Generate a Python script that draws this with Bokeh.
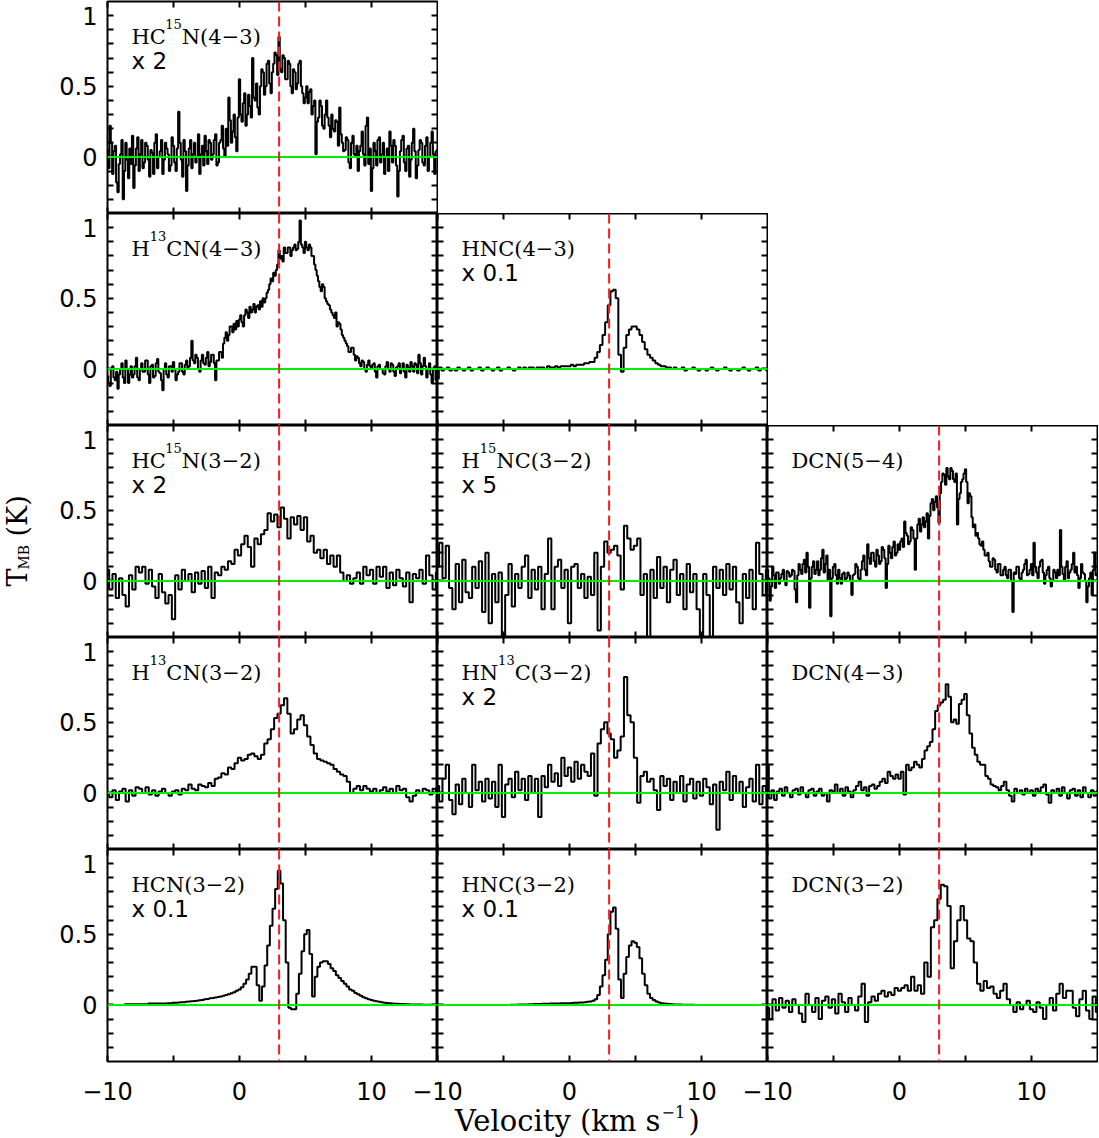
import numpy as np
from bokeh.plotting import figure
from bokeh.models import Range1d, LinearAxis, FixedTicker, Span, Label
from bokeh.layouts import column, row
from bokeh.embed import file_html
from bokeh.resources import INLINE

# ---------------- data ----------------
V_START = -10.0          # velocity of first channel (km/s)
V_SYS = 3.0              # dashed red line
X_TICKS = [-10, 0, 10]
X_LABELS = ["\u221210", "0", "10"]
X_MINOR = [-5, 5]
Y_TICKS = [0, 0.5, 1]
Y_LABELS = ["0", "0.5", "1"]
Y_MINOR = [-0.3, -0.2, -0.1, 0.1, 0.2, 0.3, 0.4, 0.6, 0.7, 0.8, 0.9]

# channel width 0.1 km/s
hc15n_43 = [
    0.05, -0.08, 0.22, 0.10, -0.12, 0.04, 0.08, -0.18, -0.25, -0.05,
    0.02, 0.12, -0.30, -0.10, 0.10, -0.02, -0.15, 0.06, -0.05, 0.15,
    -0.22, -0.06, 0.06, 0.14, -0.10, 0.02, 0.12, -0.08, -0.04, 0.10,
    0.08, -0.02, -0.14, 0.05, 0.03, -0.12, 0.10, 0.16, -0.08, 0.00,
    0.04, 0.12, -0.12, -0.02, 0.10, 0.06, 0.02, -0.10, -0.06, 0.14,
    0.08, -0.04, -0.10, 0.06, 0.32, 0.10, -0.02, -0.14, 0.12, 0.04,
    -0.24, -0.06, 0.06, 0.12, -0.08, 0.02, 0.10, -0.04, 0.00, 0.16,
    -0.12, 0.02, 0.08, -0.06, 0.15, 0.04, -0.05, 0.12, 0.10, -0.02,
    0.02, 0.12, 0.16, -0.06, -0.04, 0.10, 0.12, 0.22, 0.06, 0.00,
    0.20, 0.08, 0.42, 0.26, 0.10, 0.18, 0.30, 0.14, 0.04, 0.28,
    0.55, 0.30, 0.25, 0.38, 0.45, 0.22, 0.30, 0.44, 0.36, 0.28,
    0.70, 0.42, 0.40, 0.52, 0.35, 0.30, 0.50, 0.62, 0.60, 0.44,
    0.50, 0.66, 0.68, 0.52, 0.45, 0.60, 0.66, 0.74, 0.72, 0.58,
    0.85, 0.62, 0.60, 0.72, 0.70, 0.55, 0.55, 0.68, 0.66, 0.50,
    0.45, 0.62, 0.60, 0.48, 0.52, 0.66, 0.68, 0.50, 0.45, 0.38,
    0.42, 0.50, 0.38, 0.46, 0.48, 0.30, 0.36, 0.40, 0.02, 0.25,
    0.28, 0.40, 0.36, 0.22, 0.20, 0.30, 0.40, 0.28, 0.22, 0.14,
    0.30, 0.20, 0.18, 0.26, 0.25, 0.08, 0.35, 0.16, 0.10, 0.04,
    0.05, 0.14, 0.12, -0.04, -0.08, 0.10, 0.15, 0.02, 0.00, 0.08,
    -0.10, 0.04, 0.08, 0.18, 0.02, -0.06, 0.22, 0.28, -0.05, 0.06,
    -0.24, -0.08, 0.10, 0.04, -0.06, 0.12, 0.14, -0.04, 0.02, 0.10,
    -0.12, 0.00, 0.06, -0.10, 0.18, 0.08, -0.04, 0.12, 0.08, -0.06,
    -0.28, -0.10, 0.04, 0.12, 0.15, -0.04, -0.10, 0.06, 0.08, -0.14,
    -0.02, 0.10, 0.20, 0.04, -0.15, -0.06, 0.05, 0.12, 0.10, -0.04,
    -0.06, 0.08, 0.14, -0.10, 0.00, 0.10, 0.18, 0.02, -0.12, 0.04,
    0.05]

h13cn_43 = [
    -0.05, -0.10, -0.12, 0.00, 0.02, -0.06, -0.08, -0.02, -0.14, -0.04,
    0.00, 0.04, -0.06, -0.10, 0.06, 0.00, -0.10, -0.04, 0.02, -0.06,
    -0.04, 0.02, 0.08, -0.06, -0.08, 0.00, 0.04, -0.02, -0.02, 0.06,
    0.06, -0.04, -0.10, 0.02, 0.03, -0.06, -0.05, 0.04, 0.07, -0.02,
    -0.03, -0.08, -0.15, 0.00, 0.04, -0.04, -0.06, 0.02, 0.02, -0.02,
    0.05, 0.00, -0.08, -0.04, -0.02, 0.04, 0.04, -0.02, -0.04, 0.03,
    0.06, 0.00, 0.02, 0.08, 0.20, 0.06, 0.04, 0.10, 0.08, 0.00,
    -0.02, 0.06, 0.10, 0.04, 0.03, 0.08, 0.12, 0.02, 0.05, 0.10,
    0.10, 0.04, -0.08, 0.06, 0.06, 0.12, 0.12, 0.08, 0.18, 0.22,
    0.26, 0.20, 0.24, 0.30, 0.30, 0.26, 0.32, 0.28, 0.34, 0.30,
    0.35, 0.38, 0.33, 0.30, 0.38, 0.42, 0.40, 0.36, 0.44, 0.40,
    0.42, 0.46, 0.40, 0.44, 0.45, 0.42, 0.48, 0.44, 0.50, 0.47,
    0.50, 0.54, 0.56, 0.60, 0.64, 0.62, 0.68, 0.66, 0.70, 0.74,
    0.84, 0.78, 0.80, 0.76, 0.86, 0.82, 0.82, 0.86, 0.86, 0.80,
    0.84, 0.86, 0.88, 0.84, 0.85, 0.90, 1.05, 0.88, 0.86, 0.82,
    0.90, 0.86, 0.84, 0.88, 0.86, 0.80, 0.80, 0.74, 0.70, 0.66,
    0.62, 0.58, 0.55, 0.60, 0.58, 0.50, 0.48, 0.46, 0.45, 0.42,
    0.40, 0.38, 0.36, 0.40, 0.30, 0.33, 0.32, 0.28, 0.24, 0.22,
    0.20, 0.18, 0.16, 0.12, 0.12, 0.15, 0.15, 0.10, 0.06, 0.09,
    0.08, 0.04, 0.02, 0.06, 0.05, 0.00, -0.02, 0.03, 0.06, 0.02,
    0.00, 0.03, 0.04, -0.02, -0.06, 0.02, 0.03, 0.00, 0.00, -0.03,
    -0.04, 0.02, 0.05, 0.00, -0.02, 0.04, 0.03, -0.02, -0.05, 0.01,
    0.02, 0.04, -0.03, 0.00, 0.04, -0.02, -0.06, 0.03, 0.01, -0.02,
    0.05, 0.02, -0.02, 0.04, 0.03, -0.03, 0.10, 0.04, -0.04, 0.02,
    0.08, 0.02, -0.06, 0.00, 0.04, -0.04, -0.10, 0.00, 0.02, -0.08,
    -0.05]

dcn_54 = [
    0.08, 0.02, -0.14, -0.04, 0.10, 0.04, -0.05, 0.06, 0.06, -0.02,
    0.02, 0.05, 0.08, 0.00, -0.03, 0.07, 0.06, 0.03, 0.04, 0.08,
    0.07, -0.06, -0.15, 0.04, 0.12, 0.08, 0.05, 0.12, 0.15, 0.06,
    0.20, 0.10, -0.19, 0.02, 0.10, 0.14, 0.05, 0.08, 0.14, 0.04,
    0.08, 0.16, 0.22, 0.06, 0.12, 0.18, 0.00, 0.08, -0.25, 0.02,
    0.10, 0.12, 0.04, -0.02, 0.08, 0.02, -0.02, 0.05, 0.06, 0.00,
    0.02, 0.06, 0.04, 0.00, -0.10, 0.04, 0.05, 0.12, 0.10, 0.02,
    0.00, 0.08, 0.14, 0.18, 0.08, 0.04, 0.26, 0.16, 0.12, 0.20,
    0.20, 0.14, 0.10, 0.22, 0.18, 0.12, 0.14, 0.24, 0.22, 0.16,
    -0.05, 0.12, 0.25, 0.20, 0.16, 0.24, 0.28, 0.18, 0.20, 0.26,
    0.22, 0.28, 0.30, 0.24, 0.42, 0.34, 0.32, 0.26, 0.28, 0.38,
    0.36, 0.30, 0.08, 0.30, 0.40, 0.44, 0.35, 0.40, 0.45, 0.38,
    0.42, 0.48, 0.30, 0.46, 0.55, 0.58, 0.50, 0.56, 0.60, 0.52,
    0.41, 0.62, 0.70, 0.76, 0.75, 0.68, 0.80, 0.74, 0.72, 0.80,
    0.78, 0.72, 0.70, 0.76, 0.40, 0.58, 0.62, 0.70, 0.72, 0.76,
    0.79, 0.70, 0.55, 0.62, 0.60, 0.45, 0.38, 0.40, 0.32, 0.34,
    0.30, 0.26, 0.25, 0.28, 0.22, 0.18, 0.18, 0.20, 0.14, 0.10,
    0.10, 0.16, 0.15, 0.08, 0.06, 0.12, 0.12, 0.04, 0.04, 0.08,
    0.10, 0.04, 0.02, 0.08, 0.08, 0.00, -0.22, 0.06, 0.05, 0.10,
    0.10, 0.02, 0.00, 0.06, 0.08, 0.12, 0.15, 0.04, 0.05, 0.08,
    0.12, 0.04, 0.27, 0.10, 0.06, 0.02, 0.10, 0.14, 0.15, 0.06,
    -0.02, 0.04, 0.08, 0.10, 0.02, -0.04, 0.00, 0.08, 0.06, 0.02,
    0.08, 0.04, 0.36, 0.10, 0.05, 0.00, 0.10, 0.14, 0.02, 0.06,
    0.08, 0.12, 0.20, 0.06, 0.10, 0.04, -0.05, 0.02, 0.12, 0.06,
    0.05, 0.00, -0.15, -0.04, 0.02, 0.06, -0.10, 0.08, 0.20, 0.04,
    0.05]

# channel width 0.2 km/s
hnc_43 = [
    -0.07, 0.01, -0.01, 0.00, 0.01, -0.01, 0.00, -0.01, 0.01, 0.00,
    -0.01, 0.00, 0.01, -0.01, 0.00, 0.00, 0.01, -0.01, 0.00, 0.01,
    0.00, -0.01, 0.00, 0.01, -0.01, 0.00, 0.00, 0.01, 0.00, -0.01,
    0.00, 0.01, 0.00, 0.01, 0.00, 0.01, 0.01, 0.00, 0.01, 0.01,
    0.01, 0.00, 0.02, 0.01, 0.01, 0.02, 0.01, 0.02, 0.02, 0.02,
    0.02, 0.03, 0.02, 0.03, 0.03, 0.03, 0.04, 0.04, 0.05, 0.05,
    0.08, 0.12, 0.17, 0.24, 0.33, 0.45, 0.55, 0.56, 0.50, 0.10,
    -0.02, 0.15, 0.24, 0.28, 0.30, 0.30, 0.28, 0.24, 0.19, 0.14,
    0.10, 0.08, 0.06, 0.04, 0.03, 0.02, 0.02, 0.01, 0.01, 0.00,
    0.01, 0.00, 0.00, 0.01, -0.01, 0.00, 0.00, 0.01, 0.00, -0.01,
    0.00, 0.00, -0.01, 0.00, 0.01, 0.00, -0.01, 0.00, 0.00, 0.01,
    0.00, -0.01, 0.00, 0.00, -0.01, 0.00, 0.01, 0.00, -0.01, 0.00,
    0.00, 0.01, -0.01, 0.00, 0.00, -0.01]

dcn_43 = [
    0.20, -0.04, 0.02, -0.05, 0.01, 0.03, -0.02, 0.04, 0.00, -0.03,
    0.02, 0.03, -0.01, 0.04, 0.00, -0.03, 0.02, 0.03, -0.02, 0.01,
    0.03, -0.02, 0.00, -0.06, 0.02, 0.01, 0.06, 0.00, 0.03, -0.02,
    0.04, 0.01, -0.03, 0.02, 0.05, 0.08, 0.02, 0.04, -0.02, 0.05,
    0.06, 0.03, 0.05, 0.08, 0.10, 0.07, 0.15, 0.12, 0.10, 0.13,
    0.10, 0.15, -0.01, 0.20, 0.16, 0.18, 0.22, 0.20, 0.18, 0.24,
    0.30, 0.33, 0.36, 0.45, 0.58, 0.62, 0.64, 0.66, 0.77, 0.68,
    0.50, 0.52, 0.49, 0.63, 0.66, 0.70, 0.55, 0.42, 0.32, 0.27,
    0.22, 0.20, 0.20, 0.12, 0.10, 0.06, 0.05, 0.04, 0.02, 0.05,
    0.08, 0.02, -0.02, -0.06, 0.03, 0.00, 0.02, -0.01, 0.03, 0.00,
    0.02, -0.02, 0.03, 0.01, 0.04, 0.06, -0.01, -0.07, 0.02, 0.00,
    0.03, -0.02, 0.04, 0.00, -0.04, 0.02, 0.03, -0.02, 0.02, -0.03,
    0.04, 0.00, -0.03, 0.02, -0.02, 0.01]

hcn_32 = [
    0.000, 0.000, 0.000, 0.000, 0.000, 0.000, 0.000, 0.005, 0.005, 0.005,
    0.005, 0.005, 0.005, 0.005, 0.005, 0.005, 0.010, 0.010, 0.010, 0.010,
    0.010, 0.010, 0.010, 0.012, 0.012, 0.015, 0.015, 0.018, 0.020, 0.020,
    0.022, 0.024, 0.026, 0.028, 0.030, 0.033, 0.036, 0.040, 0.043, 0.047,
    0.050, 0.053, 0.057, 0.060, 0.065, 0.070, 0.076, 0.083, 0.090, 0.100,
    0.110, 0.125, 0.150, 0.180, 0.220, 0.270, 0.270, 0.140, 0.030, 0.130,
    0.280, 0.420, 0.560, 0.680, 0.820, 0.950, 0.860, 0.600, 0.300, -0.020,
    -0.030, -0.030, 0.080, 0.220, 0.380, 0.500, 0.530, 0.360, 0.060, 0.200,
    0.270, 0.300, 0.310, 0.310, 0.290, 0.260, 0.240, 0.210, 0.190, 0.170,
    0.150, 0.130, 0.110, 0.100, 0.085, 0.075, 0.065, 0.055, 0.048, 0.040,
    0.035, 0.030, 0.026, 0.022, 0.019, 0.016, 0.014, 0.012, 0.010, 0.009,
    0.008, 0.007, 0.006, 0.005, 0.005, 0.004, 0.004, 0.003, 0.003, 0.003,
    0.002, 0.002, 0.002, 0.001, 0.001, 0.001]

hnc_32 = [
    0.000, 0.000, 0.000, 0.000, 0.000, 0.000, 0.000, 0.000, 0.000, 0.000,
    0.000, 0.000, 0.000, 0.000, 0.000, 0.000, 0.000, 0.000, 0.000, 0.000,
    0.000, 0.000, 0.000, 0.000, 0.000, 0.000, 0.000, 0.000, 0.002, 0.002,
    0.002, 0.003, 0.003, 0.004, 0.004, 0.005, 0.005, 0.006, 0.006, 0.007,
    0.008, 0.008, 0.009, 0.010, 0.010, 0.011, 0.011, 0.012, 0.012, 0.013,
    0.013, 0.014, 0.015, 0.016, 0.017, 0.018, 0.020, 0.022, 0.025, 0.030,
    0.040, 0.070, 0.130, 0.210, 0.320, 0.500, 0.660, 0.690, 0.540, 0.180,
    0.050, 0.220, 0.340, 0.420, 0.450, 0.440, 0.410, 0.330, 0.220, 0.140,
    0.080, 0.050, 0.035, 0.025, 0.018, 0.013, 0.010, 0.008, 0.006, 0.005,
    0.004, 0.003, 0.003, 0.002, 0.002, 0.001, 0.001, 0.001, 0.000, 0.000,
    0.000, 0.000, 0.000, 0.000, 0.000, 0.000, 0.000, 0.000, 0.000, 0.000,
    0.000, 0.000, 0.000, 0.000, 0.000, 0.000, 0.000, 0.000, 0.000, 0.000,
    0.000, 0.000, 0.000, 0.000, 0.000, 0.000]

# channel width 0.25 km/s
hc15n_32 = [
    0.08, -0.06, 0.05, -0.12, 0.02, -0.10, -0.18, 0.04, -0.06, 0.10,
    0.06, 0.10, -0.02, 0.08, -0.04, -0.12, 0.05, -0.08, -0.16, -0.10,
    -0.27, 0.04, -0.06, 0.08, 0.00, 0.05, -0.08, 0.06, -0.02, 0.07,
    -0.05, 0.10, -0.12, 0.06, 0.04, 0.10, 0.08, 0.14, 0.12, 0.22,
    0.18, 0.26, 0.32, 0.24, 0.10, 0.30, 0.26, 0.33, 0.36, 0.48,
    0.42, 0.47, 0.38, 0.52, 0.44, 0.30, 0.45, 0.40, 0.46, 0.36,
    0.45, 0.28, 0.32, 0.20, 0.22, 0.16, 0.22, 0.12, 0.18, 0.10,
    0.18, 0.06, 0.00, 0.04, -0.02, 0.02, 0.06, -0.02, 0.10, 0.04,
    0.08, -0.02, 0.10, 0.03, 0.10, -0.05, 0.06, -0.03, 0.08, 0.02,
    -0.04, 0.06, -0.15, 0.05, 0.02, 0.08, -0.02, 0.18, 0.04, -0.06,
    0.06]

h15nc_32 = [
    0.10, 0.27, 0.02, 0.25, -0.05, -0.20, 0.12, -0.15, 0.15, -0.08,
    -0.12, 0.10, -0.05, 0.14, -0.22, 0.20, -0.30, 0.05, -0.15, 0.06,
    -0.45, -0.10, 0.12, -0.18, 0.05, -0.05, 0.10, 0.18, -0.12, 0.08,
    -0.06, 0.10, -0.20, 0.05, 0.30, -0.20, 0.10, 0.15, -0.05, 0.08,
    -0.30, 0.10, 0.12, -0.05, 0.05, -0.12, 0.03, -0.10, 0.20, -0.35,
    0.10, 0.28, 0.20, 0.22, 0.25, 0.18, -0.06, 0.39, 0.30, 0.22,
    0.25, 0.30, -0.10, 0.05, -0.45, 0.08, -0.12, 0.17, -0.05, 0.10,
    -0.15, 0.08, 0.15, -0.10, 0.05, -0.20, 0.12, -0.08, 0.05, -0.20,
    -0.45, 0.05, -0.10, -0.45, 0.10, -0.05, 0.08, -0.10, 0.12, -0.06,
    0.10, -0.15, -0.30, 0.05, -0.12, 0.08, -0.20, 0.27, 0.05, -0.10,
    0.08]

h13cn_32 = [
    0.00, -0.03, 0.02, -0.05, 0.01, 0.03, -0.06, 0.02, -0.02, 0.04,
    0.03, 0.00, 0.04, -0.01, 0.02, -0.02, 0.01, 0.03, 0.00, -0.02,
    0.01, 0.02, -0.01, 0.03, 0.02, 0.06, 0.03, 0.02, 0.06, 0.05,
    0.04, 0.07, 0.05, 0.10, 0.11, 0.14, 0.13, 0.18, 0.17, 0.21,
    0.25, 0.23, 0.24, 0.27, 0.28, 0.26, 0.24, 0.27, 0.35, 0.38,
    0.45, 0.53, 0.56, 0.62, 0.67, 0.56, 0.42, 0.45, 0.52, 0.55,
    0.48, 0.40, 0.34, 0.28, 0.24, 0.23, 0.22, 0.21, 0.20, 0.17,
    0.15, 0.13, 0.12, 0.08, 0.00, 0.03, 0.05, 0.02, 0.05, 0.03,
    0.01, 0.03, 0.00, 0.02, 0.04, 0.01, 0.03, 0.00, 0.05, 0.02,
    0.03, -0.03, -0.06, -0.02, 0.02, 0.00, 0.03, 0.02, -0.01, 0.03,
    0.01]

hn13c_32 = [
    0.05, -0.06, 0.10, 0.20, -0.05, -0.15, 0.06, -0.08, 0.10, 0.00,
    -0.10, 0.20, 0.02, 0.08, -0.06, 0.10, -0.04, 0.08, -0.10, 0.20,
    -0.17, 0.06, 0.10, -0.03, 0.15, 0.02, 0.10, -0.05, 0.12, 0.00,
    0.10, -0.17, 0.12, 0.04, 0.20, 0.08, 0.14, 0.05, 0.25, 0.12,
    0.18, 0.08, 0.22, 0.10, 0.20, 0.15, 0.12, 0.28, -0.02, 0.35,
    0.45, 0.50, 0.42, 0.38, 0.25, 0.30, 0.40, 0.82, 0.55, 0.50,
    0.25, -0.07, 0.12, 0.15, 0.08, 0.10, 0.02, -0.12, 0.12, 0.05,
    0.10, -0.05, 0.08, 0.00, 0.12, -0.06, 0.06, 0.10, -0.04, 0.08,
    -0.02, 0.10, 0.04, -0.08, 0.06, -0.26, 0.08, 0.02, 0.15, -0.05,
    0.12, 0.00, 0.08, -0.10, 0.04, 0.10, -0.06, 0.20, -0.08, 0.05,
    0.02]

dcn_32 = [
    -0.02, -0.10, 0.04, -0.04, 0.05, -0.02, 0.03, -0.05, 0.04, 0.00,
    -0.06, -0.12, 0.08, 0.00, -0.05, 0.05, -0.10, 0.03, 0.06, -0.02,
    0.04, -0.06, 0.08, 0.02, -0.05, 0.05, 0.00, -0.04, 0.06, 0.15,
    -0.12, 0.02, 0.06, 0.03, 0.08, 0.10, 0.06, 0.09, 0.07, 0.12,
    0.10, 0.12, 0.14, 0.10, 0.20, 0.10, 0.14, 0.08, 0.30, 0.20,
    0.55, 0.60, 0.75, 0.85, 0.84, 0.70, 0.26, 0.45, 0.60, 0.70,
    0.60, 0.47, 0.45, 0.30, 0.15, 0.10, 0.17, 0.12, 0.13, 0.08,
    0.05, 0.10, 0.15, 0.04, 0.00, -0.05, 0.02, -0.03, 0.00, 0.03,
    -0.03, -0.05, 0.02, -0.02, -0.10, 0.00, 0.05, -0.04, 0.08, 0.15,
    0.05, 0.10, 0.10, -0.02, -0.08, 0.04, 0.10, -0.04, -0.10, 0.06,
    -0.05]

# ---------------- layout constants ----------------
FW, FH = 330, 212
STRIP_L = 36             # strip holding the y title
LEFT = 107 - STRIP_L     # left border of first-column panels
BOTTOM = 48              # border for x tick labels
STRIP_B = 40             # strip holding the x title
STRIP_B_OVERLAP = 12     # strip slides up under the tick-label border
TOTAL_W = STRIP_L + LEFT + 3 * FW + 1
GRID_H = 1 + 5 * FH
SERIF = "DejaVu Serif"
SANS = "DejaVu Sans"
MAIN_SIZE = 21
SUP_SIZE = 13
EM = {"H": 0.872, "C": 0.733, "N": 0.872, "1": 0.636, "3": 0.636, "5": 0.636}
LINE_Y = -35   # molecule label offset from frame top
SUP_Y = -22
SCALE_Y = -59


def style_axis(ax, show, overrides, standoff):
    ax.axis_line_color = None
    ax.major_tick_in = 6
    ax.major_tick_out = 0
    ax.minor_tick_in = 6
    ax.minor_tick_out = 0
    ax.major_tick_line_width = 2
    ax.minor_tick_line_width = 2
    ax.major_tick_line_color = "black"
    ax.minor_tick_line_color = "black"
    if show:
        ax.major_label_overrides = overrides
        ax.major_label_text_font = SANS
        ax.major_label_text_font_size = "24px"
        ax.major_label_text_color = "black"
        ax.major_label_standoff = standoff
    else:
        ax.major_label_text_font_size = "0px"
        ax.major_label_standoff = 0


def make_panel(spec, dv, parts, scale, left=0, right=0, top=0, bottom=0,
               ylabels=False, xlabels=False, overlap=0):
    p = figure(frame_width=FW, frame_height=FH,
               x_range=Range1d(-10, 15), y_range=Range1d(-0.4, 1.1),
               x_axis_location=None, y_axis_location=None,
               toolbar_location=None, output_backend="svg",
               min_border_left=left + overlap, min_border_right=right,
               min_border_top=top, min_border_bottom=bottom)
    if overlap:
        p.margin = (0, 0, 0, -overlap)
        p.border_fill_alpha = 0
    p.xgrid.visible = False
    p.ygrid.visible = False
    p.outline_line_color = "black"
    p.outline_line_width = 2
    p.outline_line_alpha = 1.0

    for side in ("left", "right"):
        ax = LinearAxis(ticker=FixedTicker(ticks=Y_TICKS, minor_ticks=Y_MINOR))
        style_axis(ax, ylabels and side == "left",
                   dict(zip(Y_TICKS, Y_LABELS)), 10)
        p.add_layout(ax, side)
    for side in ("below", "above"):
        ax = LinearAxis(ticker=FixedTicker(ticks=X_TICKS, minor_ticks=X_MINOR))
        style_axis(ax, xlabels and side == "below",
                   dict(zip(X_TICKS, X_LABELS)), 20)
        p.add_layout(ax, side)

    v = V_START + dv * np.arange(len(spec))
    p.step(v, spec, mode="center", line_color="black", line_width=2)

    p.add_layout(Span(location=0, dimension="width", line_color="#00ee00",
                      line_width=2))
    p.add_layout(Span(location=V_SYS, dimension="height", line_color="#ff1a1a",
                      line_width=2, line_dash="10 5"))

    # molecule name: pieces placed one after the other
    xo = 24.0
    for text, sup in parts:
        size = SUP_SIZE if sup else MAIN_SIZE
        p.add_layout(Label(x=-10, y=1.1, x_offset=xo,
                           y_offset=SUP_Y if sup else LINE_Y,
                           text=text, text_align="left",
                           text_baseline="alphabetic",
                           text_font=SERIF, text_font_size=f"{size}px",
                           text_color="black"))
        xo += sum(EM.get(c, 0.64) for c in text) * size
    if scale:
        p.add_layout(Label(x=-10, y=1.1, x_offset=24, y_offset=SCALE_Y,
                           text=scale, text_align="left",
                           text_baseline="alphabetic", text_font=SANS,
                           text_font_size="23px", text_color="black"))
    return p


def simple(name):
    return [(name, False)]


p11 = make_panel(hc15n_43, 0.1,
                 [("HC", False), ("15", True), ("N(4\u22123)", False)],
                 "x 2", left=LEFT, top=1, right=1, ylabels=True)

p21 = make_panel(h13cn_43, 0.1,
                 [("H", False), ("13", True), ("CN(4\u22123)", False)],
                 None, left=LEFT, ylabels=True)
p22 = make_panel(hnc_43, 0.2, simple("HNC(4\u22123)"), "x 0.1", right=1)

p31 = make_panel(hc15n_32, 0.25,
                 [("HC", False), ("15", True), ("N(3\u22122)", False)],
                 "x 2", left=LEFT, ylabels=True)
p32 = make_panel(h15nc_32, 0.25,
                 [("H", False), ("15", True), ("NC(3\u22122)", False)],
                 "x 5")
p33 = make_panel(dcn_54, 0.1, simple("DCN(5\u22124)"), None, right=1)

p41 = make_panel(h13cn_32, 0.25,
                 [("H", False), ("13", True), ("CN(3\u22122)", False)],
                 None, left=LEFT, ylabels=True)
p42 = make_panel(hn13c_32, 0.25,
                 [("HN", False), ("13", True), ("C(3\u22122)", False)],
                 "x 2")
p43 = make_panel(dcn_43, 0.2, simple("DCN(4\u22123)"), None, right=1)

p51 = make_panel(hcn_32, 0.2, simple("HCN(3\u22122)"), "x 0.1",
                 left=LEFT, bottom=BOTTOM, ylabels=True, xlabels=True)
p52 = make_panel(hnc_32, 0.2, simple("HNC(3\u22122)"), "x 0.1",
                 bottom=BOTTOM, xlabels=True, overlap=40)
p53 = make_panel(dcn_32, 0.25, simple("DCN(3\u22122)"), None, right=1,
                 bottom=BOTTOM, xlabels=True, overlap=40)


def strip(w, h):
    s = figure(frame_width=w, frame_height=h, x_range=Range1d(0, w),
               y_range=Range1d(0, h), x_axis_location=None,
               y_axis_location=None, toolbar_location=None,
               output_backend="svg", min_border=0)
    s.xgrid.visible = False
    s.ygrid.visible = False
    s.outline_line_color = None
    s.background_fill_alpha = 0
    s.border_fill_alpha = 0
    return s


# y-axis title  T_MB (K)  (pixel coordinates inside the strip, y upward)
ys = strip(STRIP_L, GRID_H + BOTTOM)
y0 = GRID_H + BOTTOM - 586
for text, x, dy, size in [("T", 17, 0, 27), ("MB", 23, 17, 14),
                          ("(K)", 17, 50, 27)]:
    ys.add_layout(Label(x=x, y=y0 + dy, text=text, angle=np.pi / 2,
                        text_align="left", text_baseline="alphabetic",
                        text_font=SERIF, text_font_size=f"{size}px",
                        text_color="black"))

# x-axis title  Velocity (km s^-1)
xs = strip(TOTAL_W, STRIP_B)
xs.margin = (-STRIP_B_OVERLAP, 0, 0, 0)
for text, x, y, align, size in [("Velocity (km s", 660, 17, "right", 29),
                                ("\u22121", 661, 26, "left", 16),
                                (")", 688, 17, "left", 29)]:
    xs.add_layout(Label(x=x, y=y, text=text, text_align=align,
                        text_baseline="alphabetic", text_font=SERIF,
                        text_font_size=f"{size}px", text_color="black"))

grid = column(row(p11), row(p21, p22), row(p31, p32, p33),
              row(p41, p42, p43), row(p51, p52, p53))
root = column(row(ys, grid), xs)

open("out.html", "w").write(file_html(root, INLINE))
